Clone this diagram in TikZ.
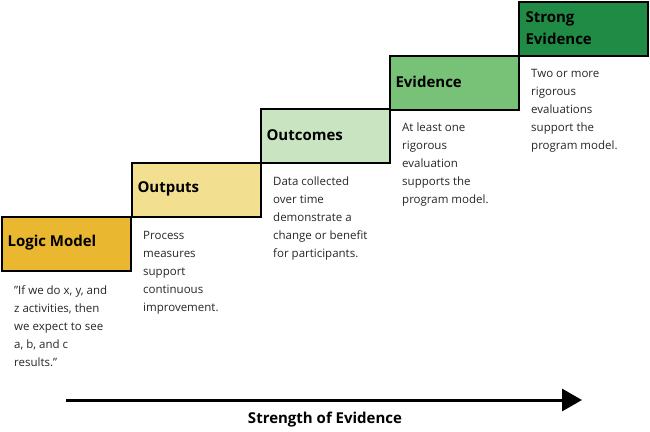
\documentclass[tikz,border=0pt]{standalone}
\usepackage{fontspec}
\setmainfont{Open Sans}
\usetikzlibrary{arrows.meta}
\definecolor{c1}{HTML}{EAB830}
\definecolor{c2}{HTML}{F3DF90}
\definecolor{c3}{HTML}{C9E4C0}
\definecolor{c4}{HTML}{78C278}
\definecolor{c5}{HTML}{1F8B45}
\tikzset{
 stepbox/.style={draw=black, line width=1.5pt, anchor=north west, minimum width=129pt, minimum height=54pt, inner sep=0pt},
 ttl/.style={anchor=west, font=\fontsize{15}{17}\selectfont\bfseries, align=left},
 desc/.style={anchor=north west, align=left, inner sep=0pt, font=\fontsize{11.5}{18}\selectfont, text=black!85}
}
\begin{document}
\begin{tikzpicture}[x=1pt,y=-1pt]
\useasboundingbox (0,0) rectangle (650,431);
\node[stepbox, fill=c1] (b1) at (1,216) {};
\node[stepbox, fill=c2] (b2) at (131,162) {};
\node[stepbox, fill=c3] (b3) at (260,108) {};
\node[stepbox, fill=c4] (b4) at (389,55) {};
\node[stepbox, fill=c5, minimum height=54pt] (b5) at (518,1) {};
\node[ttl] (t1) at (4,243) {Logic Model};
\node[ttl] (t2) at (134,189) {Outputs};
\node[ttl] (t3) at (263,135) {Outcomes};
\node[ttl] (t4) at (392,82) {Evidence};
\node[ttl, font=\fontsize{15}{22}\selectfont\bfseries] (t5) at (522,28) {Strong\\Evidence};
\node[desc] (d1) at (14,285) {"If we do x, y, and\\z activities, then\\we expect to see\\a, b, and c\\results."};
\node[desc] (d2) at (143,231) {Process\\measures\\support\\continuous\\improvement.};
\node[desc] (d3) at (273,177) {Data collected\\over time\\demonstrate a\\change or benefit\\for participants.};
\node[desc] (d4) at (402,123) {At least one\\rigorous\\evaluation\\supports the\\program model.};
\node[desc] (d5) at (531,69) {Two or more\\rigorous\\evaluations\\support the\\program model.};
\coordinate (a0) at (66,400);
\coordinate (a1) at (582,400);
\draw[line width=3pt, -{Triangle[length=20pt,width=22pt]}] (a0) -- (a1);
\node[font=\fontsize{15}{17}\selectfont\bfseries] (lab) at (325,420) {Strength of Evidence};
\end{tikzpicture}
\end{document}
